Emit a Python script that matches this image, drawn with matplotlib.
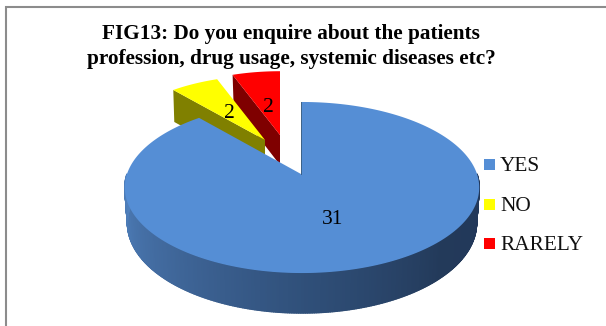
import numpy as np
import matplotlib
matplotlib.use("Agg")
import matplotlib.pyplot as plt
from matplotlib.collections import PolyCollection
from matplotlib.colors import LinearSegmentedColormap

categories = ["YES", "NO", "RARELY"]
values = [31, 2, 2]
title_lines = ["FIG13: Do you enquire about the patients",
               "profession, drug usage, systemic diseases etc?"]

plt.rcParams["font.family"] = ["Liberation Serif", "DejaVu Serif"]

FLAT = 0.158      # perspective strength of the tilted pie
RX, RY = 175, 83.4
side_cmap = LinearSegmentedColormap.from_list("side", ["#4f80bd", "#41699d", "#30507a", "#233a5a", "#21375a"])


def project(ang, radius, apex, depth=0):
    # ang is clockwise from 12 o'clock, in degrees
    a = np.radians(ang)
    u, v = radius * np.sin(a), radius * np.cos(a)
    persp = 1 + FLAT * v
    x = apex[0] + RX * u / persp
    y = apex[1] - RY * v / persp
    if depth:
        # the lower rim sits a bit smaller and further down near the viewer
        x = apex[0] + (x - apex[0]) * 0.985
        y = y + depth * (1 - FLAT * v) / (1 + FLAT)
    return x, y


fig = plt.figure(figsize=(6.06, 3.26), dpi=100)
ax = fig.add_axes([0, 0, 1, 1])
ax.set_xlim(0, 606)
ax.set_ylim(326, 0)
ax.axis("off")

# frame, open on the right and at the bottom
ax.plot([6, 6, 606], [326, 7, 7], color="#8c8c8c", lw=1.5, solid_joinstyle="miter")

total = sum(values)
sweeps = [v / total * 360 for v in values]
start_yes, end_yes = 0, sweeps[0]
end_no = end_yes + sweeps[1]
end_rarely = end_no + sweeps[2]


def exploded_wedge(a0, a1, apex, radius, top, cut, depth, z):
    # cut face on the left straight edge, then the top surface over it
    cx, cy = project(a0, radius, apex)
    ax.fill([cx, apex[0], apex[0], cx + 1], [cy, apex[1], apex[1] + depth, cy + depth],
            color=cut, lw=0, zorder=z)
    angs = np.linspace(a0, a1, 30)
    ex, ey = project(angs, radius, apex)
    ax.fill(np.r_[apex[0], ex], np.r_[apex[1], ey], color=top, lw=0, zorder=z + 0.1)


# RARELY is drawn first, NO overlaps its cut face
exploded_wedge(end_no, end_rarely, (280, 135), 0.87, "#ff0000", "#7f0000", 30, 2)
exploded_wedge(end_yes, end_no, (265, 140), 0.88, "#ffff00", "#808000", 32, 3)

# YES slice: side wall as thin strips so it can shade across the front
apex_yes = (302, 174)
wall = np.linspace(90, 270, 361)
polys = []
for a0, a1 in zip(wall[:-1], wall[1:]):
    x0, y0 = project(a0, 1, apex_yes)
    x1, y1 = project(a1, 1, apex_yes)
    x2, y2 = project(a1, 1, apex_yes, 40)
    x3, y3 = project(a0, 1, apex_yes, 40)
    polys.append([(x0, y0), (x1, y1), (x2, y2), (x3, y3)])
shade = side_cmap(np.linspace(1, 0, len(polys)))
ax.add_collection(PolyCollection(polys, facecolors=shade, edgecolors=shade, linewidths=1.0, zorder=4))

angs = np.linspace(start_yes, end_yes, 240)
ex, ey = project(angs, 1, apex_yes)
ex = np.r_[apex_yes[0] - 1, ex]
ey = np.r_[apex_yes[1], ey]
ax.fill(ex, ey, color="#558ed5", lw=0, zorder=5)
ax.plot([301, 301], [102, apex_yes[1]], color="#3b6187", lw=0.7, zorder=5.1)

# value labels
ax.text(333, 219, str(values[0]), fontsize=15.5, ha="center", va="center", zorder=6)
ax.text(229, 114, str(values[1]), fontsize=15.5, ha="center", va="center", zorder=6)
ax.text(268, 108, str(values[2]), fontsize=15.5, ha="center", va="center", zorder=6)

# legend
legend_colors = ["#558ed5", "#ffff00", "#ff0000"]
for name, col, y in zip(categories, legend_colors, [164.5, 204.5, 243.5]):
    ax.fill([484, 495, 495, 484], [y - 5.5, y - 5.5, y + 5.5, y + 5.5], color=col, lw=0)
    ax.text(500, y + 2, name, fontsize=15.3, ha="left", va="center", color="#111111")

ax.text(291, 34, title_lines[0], fontsize=15.3, fontweight="bold", ha="center", va="center")
ax.text(291, 59, title_lines[1], fontsize=15.3, fontweight="bold", ha="center", va="center")

fig.savefig("out.png", dpi=100)
